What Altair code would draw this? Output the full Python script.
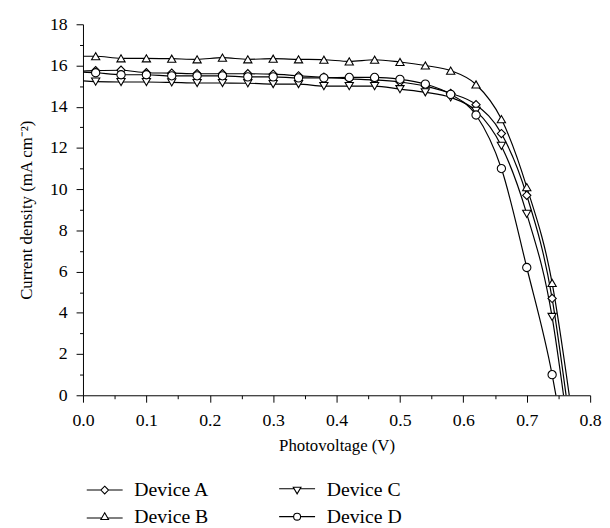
import altair as alt
import pandas as pd

# ---- data ----
voltage = [0.02, 0.06, 0.10, 0.14, 0.18, 0.22, 0.26, 0.30, 0.34, 0.38,
           0.42, 0.46, 0.50, 0.54, 0.58, 0.62, 0.66, 0.70, 0.74]
dev_a = [15.75, 15.77, 15.65, 15.63, 15.60, 15.60, 15.60, 15.58, 15.50, 15.43,
         15.35, 15.30, 15.20, 15.00, 14.65, 14.10, 12.70, 9.70, 4.70]
dev_b = [16.45, 16.35, 16.35, 16.33, 16.30, 16.38, 16.30, 16.33, 16.30, 16.28,
         16.20, 16.28, 16.17, 16.00, 15.75, 15.08, 13.40, 10.10, 5.45]
dev_c = [15.22, 15.20, 15.20, 15.18, 15.15, 15.15, 15.14, 15.10, 15.10, 15.00,
         15.00, 15.00, 14.85, 14.70, 14.45, 13.80, 12.10, 8.80, 3.80]
dev_d = [15.65, 15.55, 15.55, 15.50, 15.50, 15.50, 15.45, 15.45, 15.40, 15.40,
         15.42, 15.42, 15.33, 15.10, 14.60, 13.60, 11.00, 6.20, 1.00]
j_start = {"Device A": 15.73, "Device B": 16.45, "Device C": 15.25, "Device D": 15.68}
voc = {"Device A": 0.762, "Device B": 0.767, "Device C": 0.758, "Device D": 0.746}

devices = ["Device A", "Device B", "Device C", "Device D"]
series = {"Device A": dev_a, "Device B": dev_b, "Device C": dev_c, "Device D": dev_d}
markers = {"Device A": "diamond", "Device B": "triangle-up",
           "Device C": "triangle-down", "Device D": "circle"}
x_major = [0.0, 0.1, 0.2, 0.3, 0.4, 0.5, 0.6, 0.7, 0.8]
x_minor = [0.05, 0.15, 0.25, 0.35, 0.45, 0.55, 0.65, 0.75]
y_major = [0, 2, 4, 6, 8, 10, 12, 14, 16, 18]
y_minor = [1, 3, 5, 7, 9, 11, 13, 15, 17]

rows = []
for d in devices:
    rows.append({"device": d, "v": 0.0, "j": j_start[d], "marker": False})
    for v, j in zip(voltage, series[d]):
        rows.append({"device": d, "v": v, "j": j, "marker": True})
    rows.append({"device": d, "v": voc[d], "j": 0.0, "marker": False})
df = pd.DataFrame(rows)

# legend-only rows, placed outside the clipped plot area
legend_df = pd.DataFrame({"device": devices, "v": [-1.0] * 4, "j": [-1.0] * 4})

FONT = "Liberation Serif"

xs = alt.Scale(domain=[0, 0.8], nice=False, zero=False)
ys = alt.Scale(domain=[0, 18], nice=False)

lines = alt.Chart(df).mark_line(color="black", strokeWidth=1.2, interpolate="monotone").encode(
    x=alt.X("v:Q", scale=xs,
            axis=alt.Axis(values=x_major, format=".1f", title="Photovoltage (V)",
                          tickSize=7, labelPadding=10, titlePadding=8, grid=False,
                          labelFlush=False)),
    y=alt.Y("j:Q", scale=ys,
            axis=alt.Axis(values=y_major, title="Current density (mA cm⁻²)",
                          tickSize=7, labelPadding=9, titlePadding=14, grid=False,
                          labelFlush=False)),
    detail="device:N",
    order="v:Q",
)

minor_axes = alt.Chart(df).mark_line(opacity=0).encode(
    x=alt.X("v:Q", scale=xs,
            axis=alt.Axis(values=x_minor, labels=False, tickSize=3.5, domain=False,
                          title=None, grid=False, orient="bottom")),
    y=alt.Y("j:Q", scale=ys,
            axis=alt.Axis(values=y_minor, labels=False, tickSize=3.5, domain=False,
                          title=None, grid=False, orient="left")),
    detail="device:N",
)

point_layers = []
for d in devices:
    point_layers.append(
        alt.Chart(df).transform_filter(
            (alt.datum.device == d) & alt.datum.marker
        ).mark_point(
            shape=markers[d], filled=True, fill="white", stroke="black",
            strokeWidth=1.1, size=70, opacity=1
        ).encode(
            x=alt.X("v:Q", scale=xs, axis=None),
            y=alt.Y("j:Q", scale=ys, axis=None),
        )
    )

leg_paths = [
    "M-1.4,0H-0.3M0.3,0H1.4M0,-0.3L0.3,0L0,0.3L-0.3,0Z",
    "M-1.4,0.1H-0.23M0.23,0.1H1.4M0,-0.3L0.3,0.22L-0.3,0.22Z",
    "M-1.4,-0.1H-0.23M0.23,-0.1H1.4M0,0.3L0.3,-0.22L-0.3,-0.22Z",
    "M-1.4,0H-0.27M0.27,0H1.4M0.27,0A0.27,0.27,0,1,1,-0.27,0A0.27,0.27,0,1,1,0.27,0Z",
]

legend_layer = alt.Chart(legend_df).mark_point(
    filled=False, color="black", strokeWidth=1.1, size=676, opacity=1, clip=True
).encode(
    x=alt.X("v:Q", scale=xs, axis=None),
    y=alt.Y("j:Q", scale=ys, axis=None),
    shape=alt.Shape("device:N",
                    scale=alt.Scale(domain=devices, range=leg_paths),
                    legend=alt.Legend(orient="none", legendX=8, legendY=458,
                                      columns=2, direction="vertical", title=None,
                                      symbolSize=676, symbolStrokeWidth=1.1,
                                      symbolStrokeColor="black", symbolOpacity=1,
                                      labelFont=FONT, labelFontSize=20, labelColor="black",
                                      labelOffset=16, columnPadding=67, rowPadding=3)),
)

chart = alt.layer(lines, minor_axes, *point_layers, legend_layer).resolve_axis(
    x="independent", y="independent"
).properties(
    width=514, height=376,
    autosize=alt.AutoSizeParams(type="none"),
    padding={"left": 76, "top": 13, "right": 12, "bottom": 131},
).configure_axis(
    labelFont=FONT, labelFontSize=18, labelColor="black",
    titleFont=FONT, titleFontSize=17, titleColor="black", titleFontWeight="normal",
    domainColor="black", tickColor="black", domainWidth=1, tickWidth=1,
).configure_view(strokeWidth=0)

chart.save("out.html", embed_options={"renderer": "svg", "actions": False})
